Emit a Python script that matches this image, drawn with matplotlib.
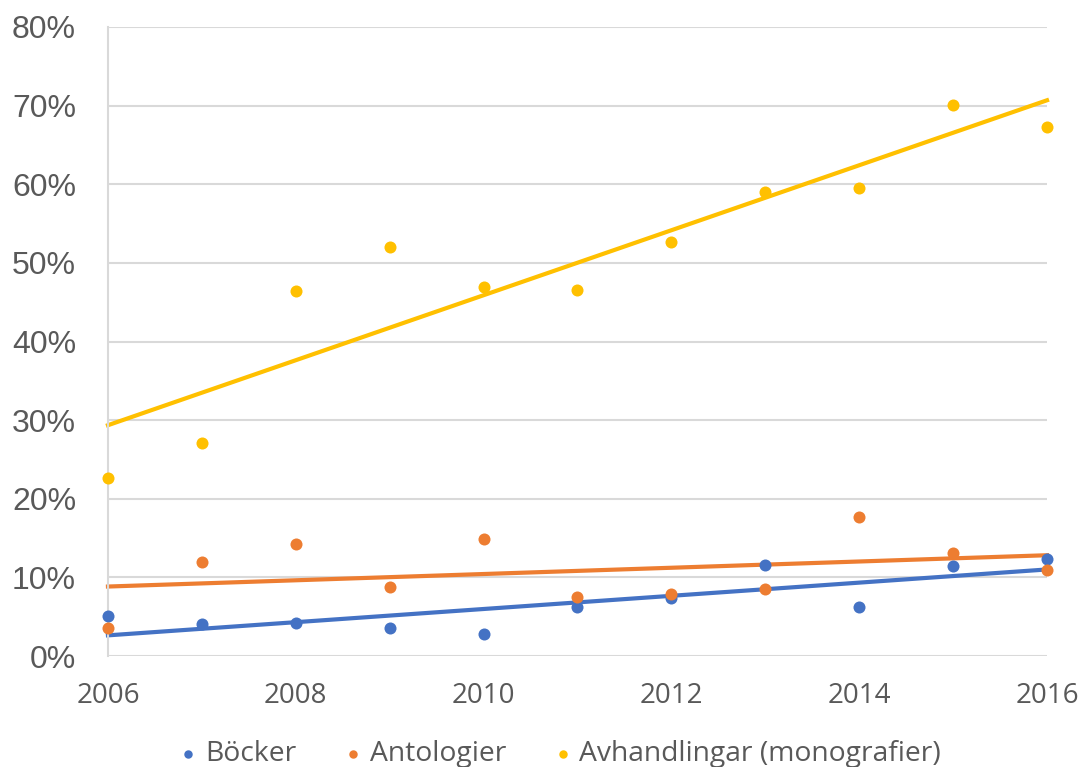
import numpy as np
import matplotlib.pyplot as plt
from matplotlib.ticker import PercentFormatter

# data (share, percent)
years = np.arange(2006, 2017)
bocker = [5.1, 4.1, 4.2, 3.6, 2.8, 6.2, 7.4, 11.6, 6.2, 11.5, 12.3]
antologier = [3.6, 12.0, 14.2, 8.8, 14.9, 7.5, 7.9, 8.5, 17.7, 13.1, 10.9]
avhandlingar = [22.6, 27.1, 46.4, 52.0, 46.9, 46.6, 52.7, 59.0, 59.5, 70.1, 67.3]

labels = ['Böcker', 'Antologier', 'Avhandlingar (monografier)']
colors = ['#4472C4', '#ED7D31', '#FFC000']
series = [bocker, antologier, avhandlingar]

fig = plt.figure(figsize=(10.85, 7.67), dpi=100)
ax = fig.add_axes([0.0995, 0.1447, 0.8655, 0.8201])

for vals, lab, col in zip(series, labels, colors):
    vals = np.array(vals) / 100.0
    ax.scatter(years, vals, s=75, color=col, label=lab, clip_on=False, zorder=3,
               linewidths=0)
    # linear trendline like excel
    k, m = np.polyfit(years, vals, 1)
    ax.plot(years, k * years + m, color=col, lw=3.0, clip_on=False, zorder=2)

ax.set_xlim(2006, 2016)
ax.set_ylim(0, 0.8)
ax.set_xticks(np.arange(2006, 2017, 2))
ax.set_yticks(np.arange(0, 0.81, 0.1))
ax.yaxis.set_major_formatter(PercentFormatter(1.0, decimals=0))

ax.grid(axis='y', color='#D9D9D9', lw=1.5)
ax.set_axisbelow(True)
for s in ['top', 'right', 'bottom']:
    ax.spines[s].set_visible(False)
ax.spines['left'].set_color('#D9D9D9')
ax.spines['left'].set_linewidth(1.5)

ax.tick_params(axis='both', length=0, labelcolor='#595959')
ax.tick_params(axis='y', pad=23, labelsize=23)
ax.tick_params(axis='x', pad=19, labelsize=20)
for t in ax.get_yticklabels():
    t.set_fontfamily('Liberation Sans')
for t in ax.get_xticklabels():
    t.set_fontfamily('Open Sans')

leg = fig.legend(loc='center', bbox_to_anchor=(0.514, 0.017), ncol=3, frameon=False,
                 prop={'family': 'Open Sans', 'size': 20.3}, handletextpad=0.1,
                 columnspacing=1.5, markerscale=0.7, handlelength=1.0)
for t in leg.get_texts():
    t.set_color('#595959')

fig.savefig('out.png', dpi=100)
